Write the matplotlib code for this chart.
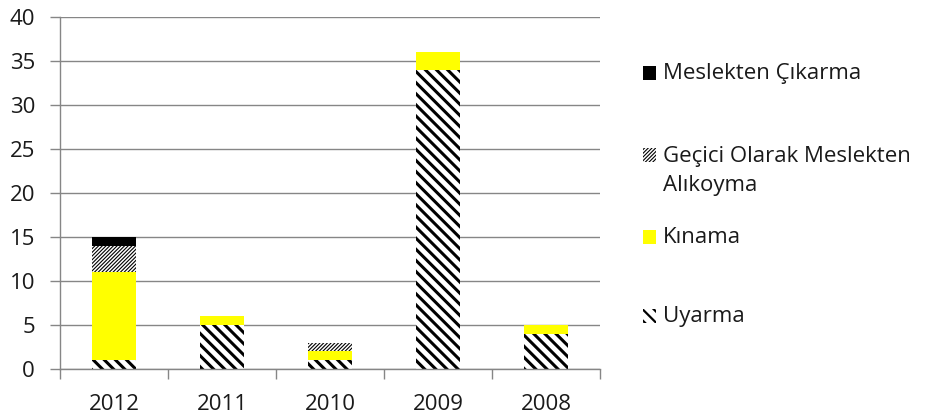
import matplotlib
matplotlib.use("Agg")
import matplotlib.pyplot as plt
from matplotlib.patches import Rectangle
import numpy as np

years = ["2012", "2011", "2010", "2009", "2008"]
uyarma = [1, 5, 1, 34, 4]
kinama = [10, 1, 1, 2, 1]
gecici = [3, 0, 1, 0, 0]
cikarma = [1, 0, 0, 0, 0]

series_names = ["Uyarma", "Kınama", "Geçici Olarak Meslekten\nAlıkoyma", "Meslekten Çıkarma"]

plt.rcParams['font.family'] = ['Open Sans', 'DejaVu Sans']
W, H = 929, 419
fig = plt.figure(figsize=(W/100, H/100), dpi=100)
ax = fig.add_axes([60/W, 1-369/H, 540/W, 352/H])

x = np.arange(len(years))
bw = 0.41
styles = [
    dict(color="white", hatch="\\" * 3, edgecolor="black", hlw=2.2, leg_hatch="\\" * 3, leg_hlw=1.6),
    dict(color="#FFFF00", hatch=None, edgecolor="#FFFF00", hlw=1.0, leg_hatch=None, leg_hlw=1.0),
    dict(color="white", hatch="/" * 9, edgecolor="black", hlw=0.8, leg_hatch="/" * 9, leg_hlw=0.8),
    dict(color="black", hatch=None, edgecolor="black", hlw=1.0, leg_hatch=None, leg_hlw=1.0),
]
data = [uyarma, kinama, gecici, cikarma]
bottom = np.zeros(len(years))
for vals, st in zip(data, styles):
    vals = np.array(vals, dtype=float)
    with plt.rc_context({'hatch.linewidth': st['hlw'], 'hatch.color': st['edgecolor']}):
        bars = ax.bar(x, vals, bw, bottom=bottom, color=st['color'],
                      hatch=st['hatch'], edgecolor=st['edgecolor'], linewidth=0)
        for b in bars:
            if hasattr(b, 'set_hatch_linewidth'):
                b.set_hatch_linewidth(st['hlw'])
    bottom += vals

txt_color = '#1a1a1a'
ax.set_xlim(-0.5, len(years)-0.5)
ax.set_ylim(0, 40)
ax.set_yticks(range(0, 41, 5))
ax.set_xticks(x)
ax.set_xticklabels(years)
ax.set_xticks(np.arange(-0.5, len(years), 1), minor=True)
ax.tick_params(axis='x', which='major', length=0, pad=18, labelsize=16, colors=txt_color)
ax.tick_params(axis='x', which='minor', length=7, color='#868686', width=1)
ax.tick_params(axis='y', length=7, color='#868686', width=1, labelsize=16, colors=txt_color, pad=11)
ax.yaxis.grid(True, color='#868686', linewidth=1)
ax.set_axisbelow(True)
for s in ['top', 'right']:
    ax.spines[s].set_visible(False)
for s in ['left', 'bottom']:
    ax.spines[s].set_color('#868686')
    ax.spines[s].set_linewidth(1)

# legend (manual, Excel style)
leg_y = [316, 237, 155, 73]
for i, st in enumerate(styles):
    yc = leg_y[i]
    with plt.rc_context({'hatch.linewidth': st['leg_hlw'], 'hatch.color': st['edgecolor']}):
        r = Rectangle((643/W, 1-(yc+7)/H), 13/W, 14/H, transform=fig.transFigure,
                      facecolor=st['color'], hatch=st['leg_hatch'], edgecolor=st['edgecolor'],
                      linewidth=0)
        if hasattr(r, 'set_hatch_linewidth'):
            r.set_hatch_linewidth(st['leg_hlw'])
        fig.patches.append(r)
    if '\n' in series_names[i]:
        fig.text(663/W, 1-(yc-9)/H, series_names[i], va='top', ha='left',
                 fontsize=16, color=txt_color, linespacing=1.5)
    else:
        fig.text(663/W, 1-yc/H, series_names[i], va='center', ha='left',
                 fontsize=16, color=txt_color)

fig.savefig("out.png", dpi=100)
